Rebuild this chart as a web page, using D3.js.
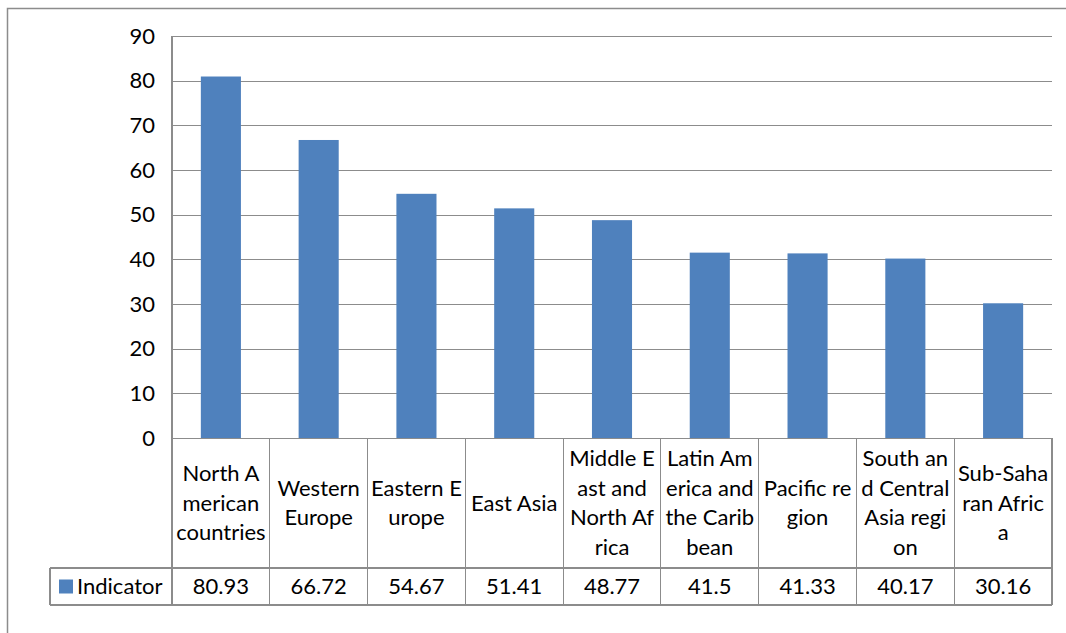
<!DOCTYPE html>
<html>
<head>
<meta charset="utf-8">
<script src="https://cdn.jsdelivr.net/npm/d3@7"></script>
<style>
  html, body { margin: 0; padding: 0; background: #fff; }
  svg { display: block; }
  text { font-family: Lato, "Open Sans", sans-serif; fill: #000; }
</style>
</head>
<body>
<svg id="chart" width="1066" height="633"></svg>
<script>
// Regions, as wrapped in the data table under the axis
const categories = [
  "North American countries", "Western Europe", "Eastern Europe", "East Asia",
  "Middle East and North Africa", "Latin America and the Caribbean",
  "Pacific region", "South and Central Asia region", "Sub-Saharan Africa"
];
const categoryLines = [
  ["North A", "merican", "countries"],
  ["Western", "Europe"],
  ["Eastern E", "urope"],
  ["East Asia"],
  ["Middle E", "ast and", "North Af", "rica"],
  ["Latin Am", "erica and", "the Carib", "bean"],
  ["Pacific re", "gion"],
  ["South an", "d Central", "Asia regi", "on"],
  ["Sub-Saha", "ran Afric", "a"]
];
const seriesName = "Indicator";
const values = [80.93, 66.72, 54.67, 51.41, 48.77, 41.5, 41.33, 40.17, 30.16];
const valueLabels = ["80.93", "66.72", "54.67", "51.41", "48.77", "41.5", "41.33", "40.17", "30.16"];
const yTicks = [0, 10, 20, 30, 40, 50, 60, 70, 80, 90];

const barColor = "#4F81BD";
const gridColor = "#8C8C8C";
const fontSize = 22;

const svg = d3.select("#chart");

// chart frame
svg.append("rect")
  .attr("x", 7.5).attr("y", 8.5)
  .attr("width", 1080).attr("height", 640)
  .attr("fill", "none").attr("stroke", "#8C8C8C").attr("stroke-width", 1.5);

const plot = { left: 172, right: 1052, top: 36, bottom: 438 };
const tableCatBottom = 568, tableBottom = 605, legendLeft = 50;

const x = d3.scaleBand()
  .domain(categories)
  .range([plot.left, plot.right])
  .paddingInner(0).paddingOuter(0);

const y = d3.scaleLinear().domain([0, 90]).range([plot.bottom, plot.top]);

// horizontal gridlines and value labels
const yAxis = d3.axisLeft(y).tickValues(yTicks).tickSize(-(plot.right - plot.left)).tickPadding(17);
const gAxis = svg.append("g").attr("transform", `translate(${plot.left},0)`).call(yAxis);
gAxis.select(".domain").remove();
gAxis.selectAll(".tick line").attr("stroke", gridColor).attr("stroke-width", 1.2)
  .attr("shape-rendering", "crispEdges");
gAxis.selectAll(".tick text")
  .attr("font-size", fontSize).attr("font-family", "Lato, 'Open Sans', sans-serif")
  .attr("fill", "#000");

// vertical axis line
svg.append("line")
  .attr("x1", plot.left).attr("x2", plot.left)
  .attr("y1", plot.top).attr("y2", plot.bottom)
  .attr("stroke", gridColor).attr("stroke-width", 1.2).attr("shape-rendering", "crispEdges");

// columns
const barWidth = x.bandwidth() * 0.41;
svg.append("g").selectAll("rect")
  .data(values)
  .join("rect")
  .attr("x", (d, i) => x(categories[i]) + (x.bandwidth() - barWidth) / 2)
  .attr("y", d => y(d))
  .attr("width", barWidth)
  .attr("height", d => y(0) - y(d))
  .attr("fill", barColor);

// data table grid
const tbl = svg.append("g").attr("stroke", gridColor).attr("stroke-width", 1.2)
  .attr("shape-rendering", "crispEdges");
// vertical cell borders
const borders = categories.map(c => x(c)).concat([plot.right]);
borders.forEach(bx => {
  tbl.append("line").attr("x1", bx).attr("x2", bx)
    .attr("y1", plot.bottom).attr("y2", tableBottom);
});
tbl.append("line").attr("x1", legendLeft).attr("x2", legendLeft)
  .attr("y1", tableCatBottom).attr("y2", tableBottom);
// horizontal cell borders
tbl.append("line").attr("x1", legendLeft).attr("x2", plot.right)
  .attr("y1", tableCatBottom).attr("y2", tableCatBottom);
tbl.append("line").attr("x1", legendLeft).attr("x2", plot.right)
  .attr("y1", tableBottom).attr("y2", tableBottom);

// category labels
const lineH = 29.5;
const catMid = (plot.bottom + tableCatBottom) / 2;
categories.forEach((c, i) => {
  const lines = categoryLines[i];
  const cx = x(c) + x.bandwidth() / 2;
  const t = svg.append("text")
    .attr("text-anchor", "middle").attr("font-size", fontSize);
  lines.forEach((ln, j) => {
    t.append("tspan")
      .attr("x", cx)
      .attr("y", catMid + (j - (lines.length - 1) / 2) * lineH)
      .attr("dy", "0.35em")
      .text(ln);
  });
});

// value row
const valMid = (tableCatBottom + tableBottom) / 2;
svg.append("g").selectAll("text")
  .data(valueLabels)
  .join("text")
  .attr("x", (d, i) => x(categories[i]) + x.bandwidth() / 2)
  .attr("y", valMid).attr("dy", "0.35em")
  .attr("text-anchor", "middle").attr("font-size", fontSize)
  .text(d => d);

// legend key in table header
svg.append("rect")
  .attr("x", 59).attr("y", valMid - 7).attr("width", 14).attr("height", 14)
  .attr("fill", barColor);
svg.append("text")
  .attr("x", 77).attr("y", valMid).attr("dy", "0.35em")
  .attr("font-size", fontSize)
  .text(seriesName);
</script>
</body>
</html>
